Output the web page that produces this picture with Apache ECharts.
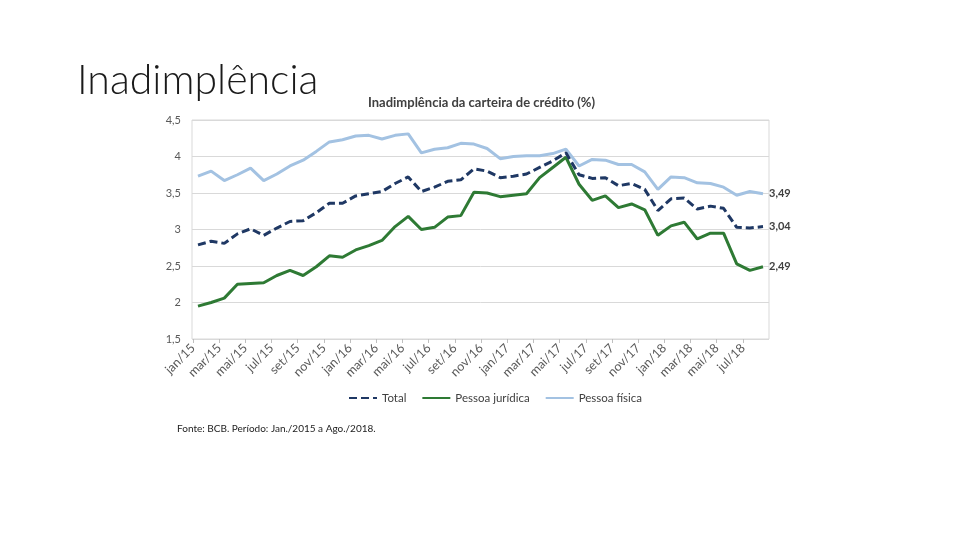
<!DOCTYPE html>
<html>
<head>
<meta charset="utf-8">
<script src="https://cdn.jsdelivr.net/npm/echarts@6/dist/echarts.min.js"></script>
<style>
html,body{margin:0;padding:0;background:#fff;}
#main{width:960px;height:540px;}
</style>
</head>
<body>
<div id="main"></div>
<script>
const months = ['jan/15','fev/15','mar/15','abr/15','mai/15','jun/15','jul/15','ago/15','set/15','out/15','nov/15','dez/15',
  'jan/16','fev/16','mar/16','abr/16','mai/16','jun/16','jul/16','ago/16','set/16','out/16','nov/16','dez/16',
  'jan/17','fev/17','mar/17','abr/17','mai/17','jun/17','jul/17','ago/17','set/17','out/17','nov/17','dez/17',
  'jan/18','fev/18','mar/18','abr/18','mai/18','jun/18','jul/18','ago/18'];

const total = [2.79,2.84,2.81,2.94,3.01,2.92,3.02,3.11,3.12,3.23,3.36,3.36,
  3.46,3.49,3.52,3.63,3.72,3.52,3.58,3.66,3.68,3.83,3.80,3.71,
  3.73,3.76,3.85,3.94,4.05,3.75,3.70,3.71,3.60,3.63,3.55,3.26,
  3.42,3.43,3.28,3.32,3.29,3.03,3.02,3.04];

const pessoaJuridica = [1.95,2.00,2.06,2.25,2.26,2.27,2.37,2.44,2.37,2.49,2.64,2.62,
  2.72,2.78,2.85,3.04,3.18,3.00,3.03,3.17,3.19,3.51,3.50,3.45,
  3.47,3.49,3.71,3.85,3.99,3.62,3.40,3.46,3.30,3.35,3.27,2.92,
  3.05,3.10,2.87,2.95,2.95,2.53,2.44,2.49];

const pessoaFisica = [3.73,3.80,3.67,3.75,3.84,3.67,3.76,3.87,3.95,4.07,4.20,4.23,
  4.28,4.29,4.24,4.29,4.31,4.05,4.10,4.12,4.18,4.17,4.11,3.97,
  4.00,4.01,4.01,4.04,4.10,3.87,3.96,3.95,3.89,3.89,3.79,3.55,
  3.72,3.71,3.64,3.63,3.58,3.47,3.52,3.49];

const seriesNames = ['Total','Pessoa jurídica','Pessoa física'];
const yMin = 1.5, yMax = 4.5, yStep = 0.5;

const FONT = 'Lato, "Open Sans", "Noto Sans", sans-serif';
const fmt = v => String(v).replace('.', ',');

const chart = echarts.init(document.getElementById('main'), null, {renderer:'canvas'});

const endLabel = {
  show: true,
  formatter: p => p.value.toFixed(2).replace('.', ','),
  color: '#404040', fontSize: 11, fontWeight: 'bold', fontFamily: FONT, distance: 6
};

chart.setOption({
  animation: false,
  backgroundColor: '#ffffff',
  title: [
    {text: 'Inadimplência', left: 72, top: 55,
     textStyle: {fontSize: 41, fontWeight: 300, color: '#1a1a1a', fontFamily: FONT}},
    {text: 'Inadimplência da carteira de crédito (%)', left: 363, top: 91,
     textStyle: {fontSize: 13, fontWeight: 'bold', color: '#404040', fontFamily: FONT}},
    {text: 'Fonte: BCB. Período: Jan./2015 a Ago./2018.', left: 172, top: 419,
     textStyle: {fontSize: 10, fontWeight: 'normal', color: '#222', fontFamily: FONT}}
  ],
  legend: {
    data: seriesNames,
    left: 343, top: 387,
    itemWidth: 28, itemHeight: 10, itemGap: 15,
    itemStyle: {opacity: 0},
    textStyle: {fontSize: 11.5, color: '#404040', fontFamily: FONT}
  },
  grid: [
    {left: 192, top: 120, width: 577, height: 219, show: true, borderColor: '#d9d9d9', borderWidth: 1},
    {left: 198, top: 120, width: 565, height: 219},
    {left: 193, top: 120, width: 563, height: 219}
  ],
  xAxis: [
    {gridIndex: 0, type: 'value', show: false, min: 0, max: 1},
    {gridIndex: 1, type: 'category', data: months, boundaryGap: false, show: false},
    {gridIndex: 2, type: 'category', data: months, boundaryGap: false,
     axisLine: {show: false},
     axisTick: {show: true, interval: 1, length: 4, lineStyle: {color: '#bfbfbf'}},
     axisLabel: {interval: 1, rotate: 45, fontSize: 12.5, color: '#595959', fontFamily: FONT, margin: 7}}
  ],
  yAxis: [
    {gridIndex: 0, type: 'value', min: yMin, max: yMax, interval: yStep,
     axisLine: {show: false}, axisTick: {show: false},
     splitLine: {lineStyle: {color: '#d9d9d9'}},
     axisLabel: {formatter: fmt, fontSize: 11, color: '#595959', fontFamily: FONT, margin: 11}},
    {gridIndex: 1, type: 'value', min: yMin, max: yMax, show: false},
    {gridIndex: 2, type: 'value', min: yMin, max: yMax, show: false}
  ],
  series: [
    {name: seriesNames[0], type: 'line', xAxisIndex: 1, yAxisIndex: 1, data: total,
     symbol: 'none', z: 4, color: '#1f3864',
     lineStyle: {width: 3, type: [8, 4], color: '#1f3864'}, endLabel: endLabel},
    {name: seriesNames[1], type: 'line', xAxisIndex: 1, yAxisIndex: 1, data: pessoaJuridica,
     symbol: 'none', z: 3, color: '#2e7a34',
     lineStyle: {width: 3, color: '#2e7a34'}, endLabel: endLabel},
    {name: seriesNames[2], type: 'line', xAxisIndex: 1, yAxisIndex: 1, data: pessoaFisica,
     symbol: 'none', z: 2, color: '#a3c2e2',
     lineStyle: {width: 3, color: '#a3c2e2'}, endLabel: endLabel}
  ]
});
</script>
</body>
</html>
